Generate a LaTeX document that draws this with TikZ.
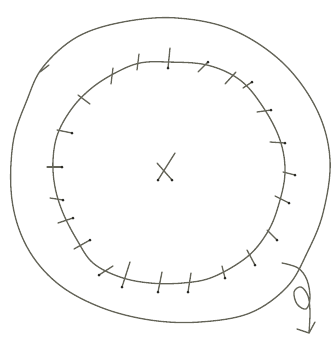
\documentclass[tikz,border=0pt]{standalone}
\usepackage{xcolor}
\usepackage{tikz}
\definecolor{pencil}{RGB}{100,100,88}
\definecolor{lead}{RGB}{40,40,36}
\newcommand{\stitch}[4]{\draw[] (#1,#2) -- (#3,#4); \fill[lead] (#3,#4) circle (1.5);}
\newcommand{\bare}[4]{\draw[] (#1,#2) -- (#3,#4);}

\begin{document}
\begin{tikzpicture}[x=1pt,y=-1pt,line width=1.3pt,color=pencil,line cap=round]
\useasboundingbox (0,0) rectangle (334,338);
% outer ring
\draw[] plot[smooth cycle, tension=0.6] coordinates {(177,18) (233,30) (283,63) (317,110) (330,160) (323,213) (307,253) (287,287) (250,313) (200,322) (150,320) (100,307) (57,283) (27,247) (12,200) (13,143) (27,100) (43,67) (77,37) (123,22)};
\draw[] (40,72) -- (49,65);
% inner ring
\draw[] plot[smooth cycle, tension=0.6] coordinates {(167,62) (207,65) (240,80) (263,107) (280,140) (285,173) (278,207) (267,233) (247,257) (213,277) (183,283) (150,283) (120,277) (93,263) (77,240) (63,213) (55,187) (53,160) (58,133) (73,107) (93,87) (117,72) (140,63)};
% stitches
\bare{113}{68}{111}{84}
\bare{139}{54}{137}{70}
\stitch{170}{48}{168}{68}
\stitch{198}{72}{208}{62}
\bare{225}{84}{236}{72}
\stitch{243}{88}{252}{82}
\stitch{257}{112}{271}{110}
\stitch{270}{142}{285}{143}
\stitch{283}{172}{295}{175}
\stitch{275}{196}{289}{203}
\stitch{267}{230}{277}{240}
\stitch{247}{250}{255}{265}
\stitch{222}{266}{225}{278}
\stitch{191}{273}{188}{292}
\stitch{162}{272}{158}{292}
\stitch{130}{262}{122}{287}
\stitch{113}{266}{99}{275}
\stitch{74}{249}{90}{240}
\bare{78}{95}{90}{104}
\stitch{57}{130}{72}{133}
\stitch{47}{167}{62}{167}
\stitch{50}{198}{63}{200}
\stitch{58}{223}{73}{218}
% centre mark
\draw[] (175,153) -- (158,180);
\draw[] (157,163) -- (172,180);
\fill[lead] (158,180) circle (1.5);
\fill[lead] (172,180) circle (1.5);
% way out
\draw[] plot[smooth, tension=0.6] coordinates {(282,263) (298,268) (307,280) (310,298) (306,309) (297,304) (294,292) (301,287) (308,296) (310,312) (309,332)};
\draw[] (297,329) -- (309,333) -- (315,322);
\end{tikzpicture}
\end{document}
